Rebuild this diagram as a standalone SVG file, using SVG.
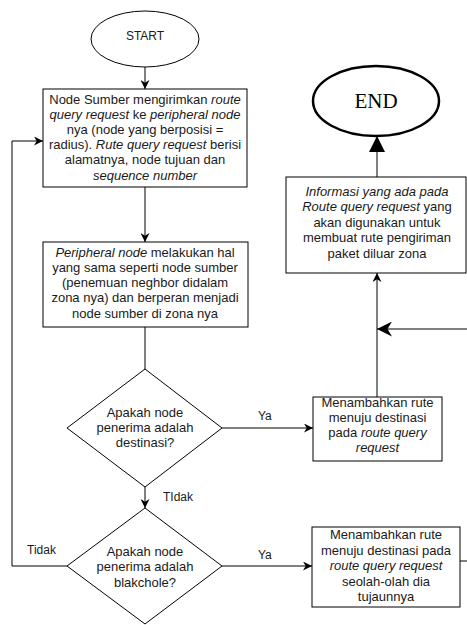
<svg xmlns="http://www.w3.org/2000/svg" width="467" height="625" viewBox="0 0 467 625">
  <defs>
    <style>
      .shape { fill: #ffffff; stroke: #000000; stroke-width: 1; }
      .end { fill: #ffffff; stroke: #000000; stroke-width: 2.5; }
      .line { fill: none; stroke: #000000; stroke-width: 1; }
      .txt { font-family: "Liberation Sans", Arial, sans-serif; font-size: 13px; fill: #1a1a1a; text-anchor: middle; }
      .lbl { font-family: "Liberation Sans", Arial, sans-serif; font-size: 12px; fill: #1a1a1a; }
      .it { font-style: italic; }
    </style>
    <marker id="arr" viewBox="0 0 10 10" refX="10" refY="5" markerWidth="9" markerHeight="9" markerUnits="userSpaceOnUse" orient="auto">
      <path d="M0,0 L10,5 L0,10 L3,5 Z" fill="#000000"/>
    </marker>
    <marker id="arrBig" viewBox="0 0 10 10" refX="10" refY="5" markerWidth="15" markerHeight="15" markerUnits="userSpaceOnUse" orient="auto">
      <path d="M0,0 L10,5 L0,10 L3,5 Z" fill="#000000"/>
    </marker>
    <marker id="block" viewBox="0 0 10 10" refX="10" refY="5" markerWidth="16" markerHeight="16" markerUnits="userSpaceOnUse" orient="auto">
      <path d="M0,0 L10,5 L0,10 Z" fill="#000000"/>
    </marker>
  </defs>

  <g id="connectors">
    <line class="line" x1="145" y1="67" x2="145" y2="89" marker-end="url(#arr)"/>
    <line class="line" x1="145" y1="187" x2="145" y2="242" marker-end="url(#arr)"/>
    <line class="line" x1="145" y1="327" x2="145" y2="369"/>
    <line class="line" x1="145" y1="487" x2="145" y2="508" marker-end="url(#arr)"/>
    <polyline class="line" points="67,566 12,566 12,141 43,141" marker-end="url(#arr)"/>
    <line class="line" x1="222" y1="428" x2="313" y2="428" marker-end="url(#arr)"/>
    <line class="line" x1="222" y1="566" x2="312" y2="566" marker-end="url(#arr)"/>
    <line class="line" x1="377" y1="397" x2="377" y2="273" marker-end="url(#arr)"/>
    <line class="line" x1="467" y1="329" x2="377" y2="329" marker-end="url(#arrBig)"/>
    <line class="line" x1="460" y1="561" x2="467" y2="561"/>
    <line class="line" x1="377" y1="177" x2="377" y2="136" stroke-width="1.5" marker-end="url(#block)"/>
    <text class="lbl" x="258" y="420">Ya</text>
    <text class="lbl" x="258" y="559">Ya</text>
    <text class="lbl" x="163" y="501">TIdak</text>
    <text class="lbl" x="27" y="554">Tidak</text>
  </g>

  <g id="start">
    <ellipse class="shape" cx="145" cy="39" rx="54" ry="28"/>
    <text class="lbl" x="145" y="40" text-anchor="middle">START</text>
  </g>

  <g id="kirim-rqr">
    <rect class="shape" x="43" y="89" width="204" height="98"/>
    <text class="txt" x="145" y="104">Node Sumber mengirimkan <tspan class="it">route</tspan></text>
    <text class="txt" x="145" y="119"><tspan class="it">query request</tspan> ke <tspan class="it">peripheral node</tspan></text>
    <text class="txt" x="145" y="134">nya (node yang berposisi =</text>
    <text class="txt" x="145" y="149">radius). <tspan class="it">Rute query request</tspan> berisi</text>
    <text class="txt" x="145" y="164">alamatnya, node tujuan dan</text>
    <text class="txt" x="145" y="180"><tspan class="it">sequence number</tspan></text>
  </g>

  <g id="peripheral">
    <rect class="shape" x="43" y="242" width="205" height="85"/>
    <text class="txt" x="145" y="257"><tspan class="it">Peripheral node</tspan> melakukan hal</text>
    <text class="txt" x="145" y="272">yang sama seperti node sumber</text>
    <text class="txt" x="145" y="287">(penemuan neghbor didalam</text>
    <text class="txt" x="145" y="302">zona nya) dan berperan menjadi</text>
    <text class="txt" x="145" y="318">node sumber di zona nya</text>
  </g>

  <g id="cek-destinasi">
    <polygon class="shape" points="145,369 222,428 145,487 67,428"/>
    <text class="txt" x="145" y="417">Apakah node</text>
    <text class="txt" x="145" y="432">penerima adalah</text>
    <text class="txt" x="145" y="447">destinasi?</text>
  </g>

  <g id="cek-blackhole">
    <polygon class="shape" points="145,508 222,566 145,624 67,566"/>
    <text class="txt" x="145" y="556">Apakah node</text>
    <text class="txt" x="145" y="571">penerima adalah</text>
    <text class="txt" x="145" y="587">blakchole?</text>
  </g>

  <g id="tambah-rute">
    <rect class="shape" x="313" y="397" width="129" height="64"/>
    <text class="txt" x="377.5" y="407">Menambahkan rute</text>
    <text class="txt" x="377.5" y="422">menuju destinasi</text>
    <text class="txt" x="377.5" y="437">pada <tspan class="it">route query</tspan></text>
    <text class="txt" x="377.5" y="452"><tspan class="it">request</tspan></text>
  </g>

  <g id="tambah-rute-tujuan">
    <rect class="shape" x="312" y="527" width="148" height="80"/>
    <text class="txt" x="386" y="539">Menambahkan rute</text>
    <text class="txt" x="386" y="555">menuju destinasi pada</text>
    <text class="txt" x="386" y="570"><tspan class="it">route query request</tspan></text>
    <text class="txt" x="386" y="586">seolah-olah dia</text>
    <text class="txt" x="386" y="601">tujaunnya</text>
  </g>

  <g id="informasi">
    <rect class="shape" x="286" y="177" width="180" height="96"/>
    <text class="txt" x="377" y="196"><tspan class="it">Informasi yang ada pada</tspan></text>
    <text class="txt" x="377" y="211"><tspan class="it">Route query request</tspan> yang</text>
    <text class="txt" x="377" y="227">akan digunakan untuk</text>
    <text class="txt" x="377" y="242">membuat rute pengiriman</text>
    <text class="txt" x="377" y="258">paket diluar zona</text>
  </g>

  <g id="end">
    <ellipse class="end" cx="376" cy="101" rx="63" ry="35"/>
    <text x="376" y="108" text-anchor="middle" font-family="'Liberation Serif', 'Times New Roman', serif" font-size="21" fill="#000000">END</text>
  </g>
</svg>
